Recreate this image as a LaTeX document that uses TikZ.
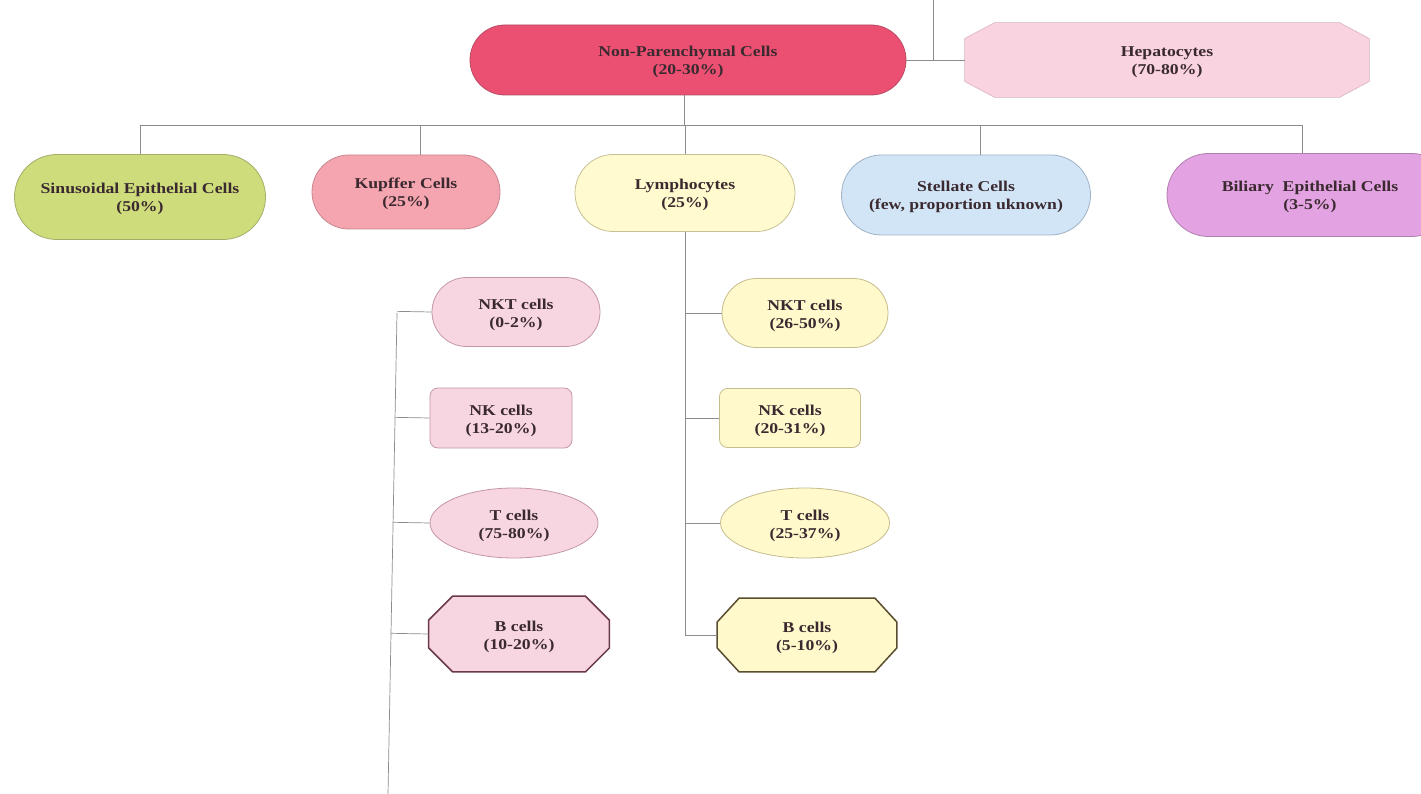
\documentclass[tikz,border=0pt]{standalone}
\usepackage{fontspec}
\setmainfont{Liberation Serif}[FakeStretch=1.18]
\usetikzlibrary{shapes.geometric,shapes.misc,calc,backgrounds}
\definecolor{txt}{HTML}{3A2A30}
\definecolor{wire}{HTML}{8C8C8C}
\definecolor{npcfill}{HTML}{EB5072}
\definecolor{npcdraw}{HTML}{B84A62}
\definecolor{hepfill}{HTML}{F9D3DF}
\definecolor{hepdraw}{HTML}{D8B4C0}
\definecolor{sinfill}{HTML}{CEDC7C}
\definecolor{sindraw}{HTML}{A4AE68}
\definecolor{kupfill}{HTML}{F5A5B0}
\definecolor{kupdraw}{HTML}{C98590}
\definecolor{lymfill}{HTML}{FFFBCE}
\definecolor{lymdraw}{HTML}{C8C094}
\definecolor{stefill}{HTML}{D2E5F7}
\definecolor{stedraw}{HTML}{9FB2C6}
\definecolor{bilfill}{HTML}{E3A2E1}
\definecolor{bildraw}{HTML}{B27FB0}
\definecolor{pinkfill}{HTML}{F8D6E1}
\definecolor{pinkdraw}{HTML}{C497A8}
\definecolor{yelfill}{HTML}{FFF9CC}
\definecolor{yeldraw}{HTML}{C6BC8C}
\definecolor{boctdraw}{HTML}{6A3848}
\definecolor{yoctdraw}{HTML}{5A4E30}
\newcommand\octshape[4]{%
\begin{pgfonlayer}{background}
\draw[#4] ($(#1.north west)+(#2,0)$) -- ($(#1.north east)+(-#2,0)$) -- ($(#1.north east)+(0,#3)$) -- ($(#1.south east)+(0,-#3)$) -- ($(#1.south east)+(-#2,0)$) -- ($(#1.south west)+(#2,0)$) -- ($(#1.south west)+(0,-#3)$) -- ($(#1.north west)+(0,#3)$) -- cycle;
\end{pgfonlayer}}
\tikzset{
  base/.style={align=center, text=txt, font=\bfseries\fontsize{15}{18}\selectfont, inner sep=0pt, line width=0.8pt, text height=33pt, text depth=3pt},
  stadium/.style={base, rounded rectangle},
  rbox/.style={base, rectangle, rounded corners=8pt},
  ell/.style={base, ellipse},
  oct/.style={base, rectangle},
  wire/.style={draw=wire, line width=0.7pt},
}
\begin{document}
\begin{tikzpicture}[x=1pt,y=-1pt]
\begin{pgfonlayer}{background}
\fill[white] (0,0) rectangle (1421,794);
\end{pgfonlayer}
\useasboundingbox (0,0) rectangle (1421,794);
% top level
\node[stadium, fill=npcfill, draw=npcdraw, minimum width=436pt, minimum height=70pt] (npc) at (688,60) {Non-Parenchymal Cells\\(20-30\%)};
\node[oct, minimum width=404pt, minimum height=74pt] (hep) at (1167,60) {Hepatocytes\\(70-80\%)};
\octshape{hep}{30}{16}{fill=hepfill, draw=hepdraw, line width=0.6pt}
% second level
\node[stadium, fill=sinfill, draw=sindraw, minimum width=251pt, minimum height=85pt] (sin) at (140,197) {Sinusoidal Epithelial Cells\\(50\%)};
\node[stadium, fill=kupfill, draw=kupdraw, minimum width=188pt, minimum height=74pt] (kup) at (406,192) {Kupffer Cells\\(25\%)};
\node[stadium, fill=lymfill, draw=lymdraw, minimum width=220pt, minimum height=77pt] (lym) at (685,193) {Lymphocytes\\(25\%)};
\node[stadium, fill=stefill, draw=stedraw, minimum width=249pt, minimum height=80pt] (ste) at (966,195) {Stellate Cells\\(few, proportion uknown)};
\node[stadium, fill=bilfill, draw=bildraw, minimum width=286pt, minimum height=83pt] (bil) at (1310,195) {Biliary\ \ Epithelial Cells\\(3-5\%)};
% right column (yellow)
\node[stadium, fill=yelfill, draw=yeldraw, minimum width=166pt, minimum height=69pt] (rnkt) at (805,313) {NKT cells\\(26-50\%)};
\node[rbox, fill=yelfill, draw=yeldraw, minimum width=141pt, minimum height=59pt] (rnk) at (790,418) {NK cells\\(20-31\%)};
\node[ell, fill=yelfill, draw=yeldraw, minimum width=169pt, minimum height=70pt] (rt) at (805,523) {T cells\\(25-37\%)};
\node[oct, minimum width=179pt, minimum height=73pt] (rb) at (807,635) {B cells\\(5-10\%)};
\octshape{rb}{22}{24}{fill=yelfill, draw=yoctdraw, line width=1.5pt}
% left column (pink)
\node[stadium, fill=pinkfill, draw=pinkdraw, minimum width=168pt, minimum height=69pt] (lnkt) at (516,312) {NKT cells\\(0-2\%)};
\node[rbox, fill=pinkfill, draw=pinkdraw, minimum width=142pt, minimum height=60pt] (lnk) at (501,418) {NK cells\\(13-20\%)};
\node[ell, fill=pinkfill, draw=pinkdraw, minimum width=168pt, minimum height=70pt] (lt) at (514,523) {T cells\\(75-80\%)};
\node[oct, minimum width=180pt, minimum height=75pt] (lb) at (519,634) {B cells\\(10-20\%)};
\octshape{lb}{24}{24}{fill=pinkfill, draw=boctdraw, line width=1.5pt}
% connectors
\coordinate (top) at (933,0);
\coordinate (bus) at (684,125);
\draw[wire] (top) -- (top |- npc.east);
\draw[wire] (npc.east) -- (hep.west);
\draw[wire] (npc.south -| bus) -- (bus);
\draw[wire] (sin.north |- bus) -- ([xshift=-8]bil.north |- bus);
\draw[wire] (sin.north |- bus) -- (sin.north);
\draw[wire] ([xshift=14]kup.north |- bus) -- ([xshift=14]kup.north);
\draw[wire] (lym.north |- bus) -- (lym.north);
\draw[wire] ([xshift=14]ste.north |- bus) -- ([xshift=14]ste.north);
\draw[wire] ([xshift=-8]bil.north |- bus) -- ([xshift=-8]bil.north);
% lymphocyte branch
\draw[wire] (lym.south) -- (lym.south |- rb.west);
\draw[wire] (lym.south |- rnkt.west) -- (rnkt.west);
\draw[wire] (lym.south |- rnk.west) -- (rnk.west);
\draw[wire] (lym.south |- rt.west) -- (rt.west);
\draw[wire] (lym.south |- rb.west) -- (rb.west);
% left branch
\coordinate (ltop) at (397,313);
\coordinate (lbot) at (388,794);
\draw[wire] (ltop) -- (lbot);
\draw[wire] ($(ltop)!(lnkt.west)!(lbot)$) -- (lnkt.west);
\draw[wire] ($(ltop)!(lnk.west)!(lbot)$) -- (lnk.west);
\draw[wire] ($(ltop)!(lt.west)!(lbot)$) -- (lt.west);
\draw[wire] ($(ltop)!(lb.west)!(lbot)$) -- (lb.west);
\end{tikzpicture}
\end{document}
